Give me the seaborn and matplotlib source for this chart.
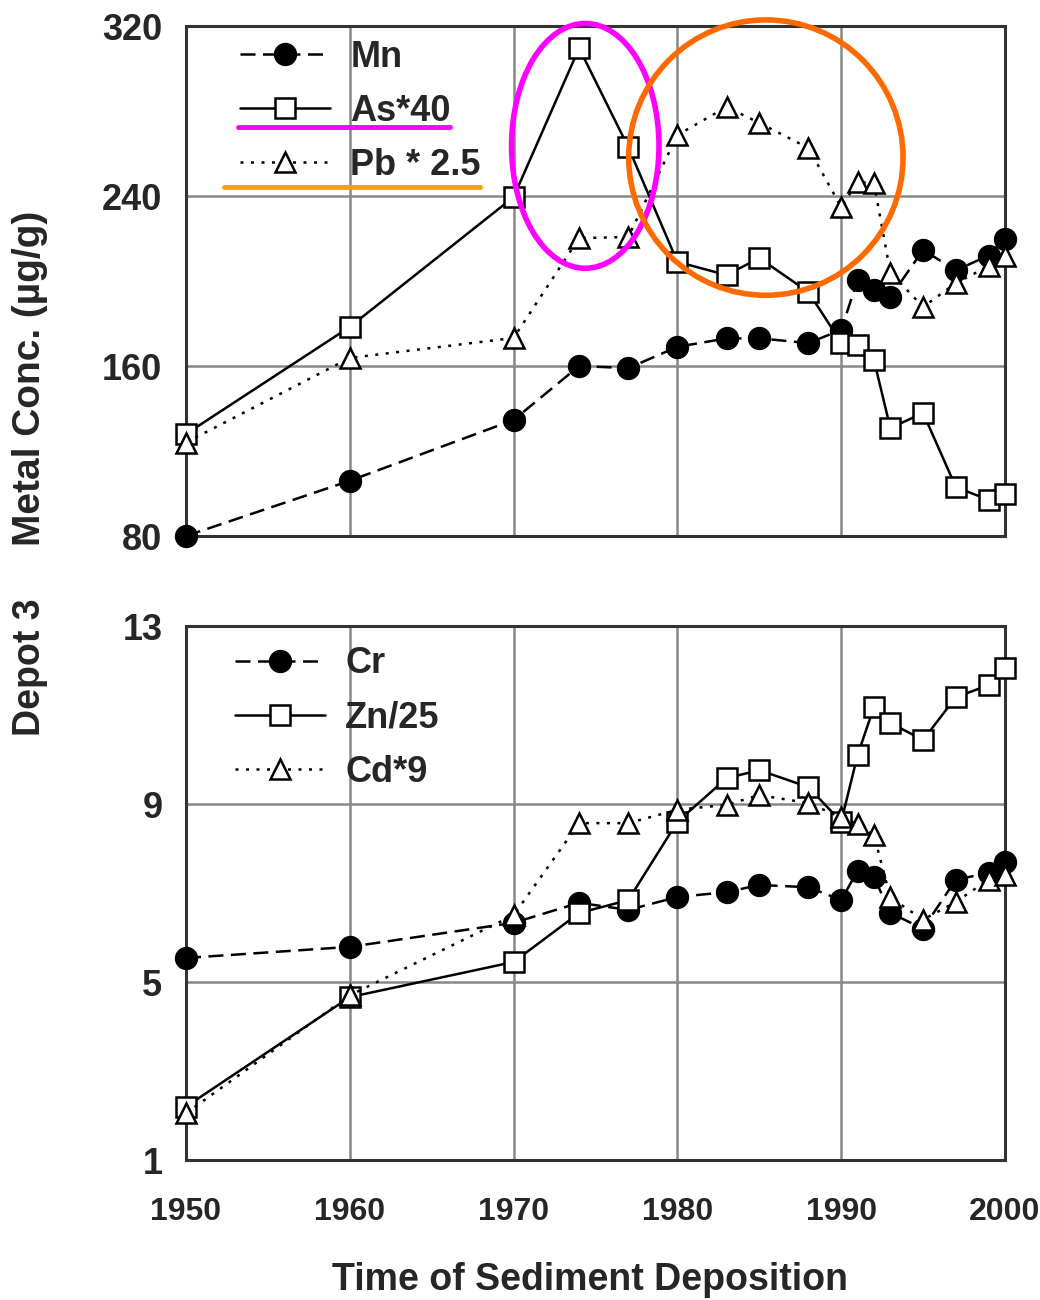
import matplotlib
matplotlib.use("Agg")
import matplotlib.pyplot as plt
from matplotlib.patches import Ellipse
from matplotlib.lines import Line2D
import seaborn as sns
import pandas as pd

years = [1950, 1960, 1970, 1974, 1977, 1980, 1983, 1985, 1988, 1990,
         1991, 1992, 1993, 1995, 1997, 1999, 2000]

mn = [80, 106, 134.6, 160, 159, 169, 173, 173, 170.8, 177,
      200.5, 196, 192.5, 214.6, 205, 212, 220]
as40 = [128, 178.4, 239.5, 309.6, 263, 209, 202.8, 210.8, 194.8, 171,
        170, 162.8, 130.8, 137.9, 103, 97, 100]
pb25 = [124, 163.8, 173.2, 220.2, 220.7, 268.7, 281.9, 274.4, 262.6, 234.8,
        246.6, 246, 204, 187.8, 199, 207, 212]

cr = [5.54, 5.79, 6.33, 6.78, 6.62, 6.91, 7.02, 7.18, 7.13, 6.84,
      7.5, 7.36, 6.55, 6.2, 7.3, 7.45, 7.7]
zn25 = [2.2, 4.66, 5.45, 6.55, 6.84, 8.6, 9.58, 9.76, 9.38, 8.6,
        10.1, 11.18, 10.82, 10.44, 11.4, 11.67, 12.05]
cd9 = [2.05, 4.7, 6.5, 8.57, 8.57, 8.87, 8.98, 9.2, 9.02, 8.7,
       8.55, 8.3, 6.9, 6.4, 6.8, 7.3, 7.4]

top_labels = ["Mn", "As*40", "Pb * 2.5"]
bottom_labels = ["Cr", "Zn/25", "Cd*9"]
top_yticks = [80, 160, 240, 320]
bottom_yticks = [1, 5, 9, 13]
xticks = [1950, 1960, 1970, 1980, 1990, 2000]

sns.set_theme(style="white")
plt.rcParams['font.family'] = ['Liberation Sans', 'DejaVu Sans']
plt.rcParams['font.weight'] = 'bold'

W, H = 1040, 1300
fig = plt.figure(figsize=(W / 100, H / 100), dpi=100)

def px_axes(x0, y0, x1, y1):
    return fig.add_axes([x0 / W, 1 - y1 / H, (x1 - x0) / W, (y1 - y0) / H])

ax1 = px_axes(186, 26, 1005, 536)
ax2 = px_axes(186, 626, 1005, 1160)

styles = [
    dict(ls=(0, (6, 3)), marker='o', mfc='black', ms=15),
    dict(ls='-', marker='s', mfc='white', ms=14),
    dict(ls=(0, (1.2, 3)), marker='^', mfc='white', ms=14),
]

def draw(ax, series, labels, leg_anchor):
    for vals, lab, st in zip(series, labels, styles):
        df = pd.DataFrame({"year": years, "val": vals})
        sns.lineplot(data=df, x="year", y="val", ax=ax, color='black',
                     linestyle=st['ls'], marker=st['marker'],
                     markerfacecolor=st['mfc'], markeredgecolor='black',
                     markeredgewidth=1.8, markersize=st['ms'], lw=1.8,
                     label=lab, clip_on=False, zorder=3)
    ax.set_xlim(1950, 2000)
    ax.set_xticks(xticks)
    ax.grid(True, color='#888888', lw=1.8)
    ax.set_axisbelow(True)
    for s in ax.spines.values():
        s.set_color('#333333')
        s.set_linewidth(2.2)
    ax.tick_params(axis='both', direction='out', length=7, width=1.5,
                   color='#555555')
    ax.tick_params(axis='y', pad=10, labelsize=26)
    ax.tick_params(axis='x', pad=20, labelsize=23)
    ax.set_xlabel("")
    ax.set_ylabel("")
    ax.legend(loc='upper left', bbox_to_anchor=leg_anchor, frameon=False,
              borderaxespad=0, borderpad=0,
              handlelength=2.5, handletextpad=0.55, labelspacing=0.53,
              prop={'weight': 'bold', 'size': 26})

draw(ax1, [mn, as40, pb25], top_labels, (0.066, 0.973))
ax1.set_ylim(80, 320)
ax1.set_yticks(top_yticks)
ax1.tick_params(axis='x', labelbottom=False)

draw(ax2, [cr, zn25, cd9], bottom_labels, (0.06, 0.962))
ax2.set_ylim(1, 13)
ax2.set_yticks(bottom_yticks)

for ax in (ax1, ax2):
    for t in ax.get_yticklabels() + ax.get_xticklabels():
        t.set_fontweight('bold')

# highlight annotations
ax1.add_patch(Ellipse((0.4875, 0.765), 0.18, 0.48, transform=ax1.transAxes,
                      fill=False, ec='#ff00ff', lw=4, zorder=5, clip_on=False))
ax1.add_patch(Ellipse((0.708, 0.742), 0.335, 0.54, transform=ax1.transAxes,
                      fill=False, ec='#ff6a00', lw=4, zorder=5, clip_on=False))
fig.add_artist(Line2D([238 / W, 450 / W], [1 - 127 / H, 1 - 127 / H],
                      color='#ff00ff', lw=3.5))
fig.add_artist(Line2D([224 / W, 480 / W], [1 - 187 / H, 1 - 187 / H],
                      color='#ffa000', lw=3.5))

fig.text(30 / W, 1 - 378 / H, "Metal Conc. (µg/g)", rotation=90,
         ha='center', va='center', fontsize=28, fontweight='bold')
fig.text(30 / W, 1 - 667 / H, "Depot 3", rotation=90,
         ha='center', va='center', fontsize=27, fontweight='bold')
fig.text(590 / W, 1 - 1280 / H, "Time of Sediment Deposition",
         ha='center', va='center', fontsize=27, fontweight='bold')

fig.savefig("out.png", dpi=100, facecolor='white')
